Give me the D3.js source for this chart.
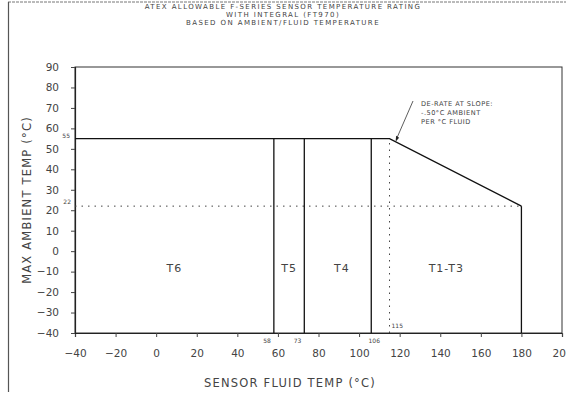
<!DOCTYPE html>
<html>
<head>
<meta charset="utf-8">
<script src="https://cdn.jsdelivr.net/npm/d3@7"></script>
<style>
  html, body { margin: 0; padding: 0; background: #fff; }
  svg { display: block; }
  text { font-family: "DejaVu Sans", sans-serif; fill: #444; }
</style>
</head>
<body>
<svg id="chart" width="566" height="397"></svg>
<script>
// Title lines
const titleLines = [
  "ATEX ALLOWABLE F-SERIES SENSOR TEMPERATURE RATING",
  "WITH INTEGRAL (FT970)",
  "BASED ON AMBIENT/FLUID TEMPERATURE"
];

// Axis ticks
const xTicks = [-40, -20, 0, 20, 40, 60, 80, 100, 120, 140, 160, 180, 200];
const yTicks = [-40, -30, -20, -10, 0, 10, 20, 30, 40, 50, 60, 70, 80, 90];

// Allowable ambient limit vs fluid temperature
const curveFluid = [-40, 115, 180];
const curveAmbient = [55, 55, 22];

// Temperature class zones (boundaries in fluid °C)
const zoneBounds = [-40, 58, 73, 106, 180];
const zoneNames = ["T6", "T5", "T4", "T1-T3"];

// Reference markers
const kneeFluid = 115;
const minAmbientAtMax = 22;

const svg = d3.select("#chart");

const x = d3.scaleLinear().domain([-40, 200]).range([75, 562]);
const y = d3.scaleLinear().domain([-40, 90]).range([333, 67]);

// Ambient limit at a given fluid temperature
const limitAt = d3.scaleLinear().domain(curveFluid).range(curveAmbient);

// Outer sheet border
svg.append("line").attr("x1", 8).attr("x2", 566).attr("y1", 2).attr("y2", 2)
  .attr("stroke", "#777").attr("stroke-width", 1).attr("stroke-dasharray", "3,1");
svg.append("line").attr("x1", 8.5).attr("x2", 8.5).attr("y1", 2).attr("y2", 392)
  .attr("stroke", "#555").attr("stroke-width", 1.2);

// Title
svg.append("g").selectAll("text").data(titleLines).join("text")
  .attr("x", 283).attr("y", (d, i) => 9 + i * 8)
  .attr("text-anchor", "middle")
  .attr("font-size", 7)
  .attr("letter-spacing", 1.4)
  .text(d => d);

// Plot frame
svg.append("rect")
  .attr("x", x(-40)).attr("y", y(90))
  .attr("width", x(200) - x(-40)).attr("height", y(-40) - y(90))
  .attr("fill", "none").attr("stroke", "#333").attr("stroke-width", 1);

// Axes
const xAxis = svg.append("g")
  .attr("transform", `translate(0,${y(-40)})`)
  .call(d3.axisBottom(x).tickValues(xTicks).tickSize(4).tickPadding(13).tickFormat(d3.format("d")));
const yAxis = svg.append("g")
  .attr("transform", `translate(${x(-40)},0)`)
  .call(d3.axisLeft(y).tickValues(yTicks).tickSize(4).tickPadding(12).tickFormat(d3.format("d")));
[xAxis, yAxis].forEach(g => {
  g.select(".domain").attr("stroke", "#222").attr("stroke-width", 1.2);
  g.selectAll(".tick line").attr("stroke", "#444");
  g.selectAll(".tick text").attr("font-size", 10.5).attr("fill", "#444")
    .attr("font-family", "DejaVu Sans, sans-serif");
});

// Axis titles
svg.append("text")
  .attr("x", 290).attr("y", 387)
  .attr("text-anchor", "middle").attr("font-size", 11.5).attr("letter-spacing", 1.2)
  .text("SENSOR FLUID TEMP (°C)");
svg.append("text")
  .attr("transform", `translate(31,${(y(90) + y(-40)) / 2}) rotate(-90)`)
  .attr("text-anchor", "middle").attr("font-size", 11.5).attr("letter-spacing", 1.2)
  .text("MAX AMBIENT TEMP (°C)");

// Dotted reference lines
svg.append("line")
  .attr("x1", x(-40)).attr("x2", x(180))
  .attr("y1", y(minAmbientAtMax)).attr("y2", y(minAmbientAtMax))
  .attr("stroke", "#444").attr("stroke-width", 1).attr("stroke-dasharray", "1.5,5");
svg.append("line")
  .attr("x1", x(kneeFluid)).attr("x2", x(kneeFluid))
  .attr("y1", y(-40)).attr("y2", y(limitAt(kneeFluid)))
  .attr("stroke", "#444").attr("stroke-width", 1).attr("stroke-dasharray", "1.5,5");

// Zone boundaries (vertical lines up to the limit curve)
svg.append("g").selectAll("line").data(zoneBounds.slice(1)).join("line")
  .attr("x1", d => x(d)).attr("x2", d => x(d))
  .attr("y1", y(-40)).attr("y2", d => y(limitAt(d)))
  .attr("stroke", "#111").attr("stroke-width", 1.3);

// Limit curve
const line = d3.line().x(d => x(d[0])).y(d => y(d[1]));
svg.append("path")
  .datum(d3.zip(curveFluid, curveAmbient))
  .attr("d", line)
  .attr("fill", "none").attr("stroke", "#111").attr("stroke-width", 1.4);

// Zone names
svg.append("g").selectAll("text").data(zoneNames).join("text")
  .attr("x", (d, i) => x((zoneBounds[i] + zoneBounds[i + 1]) / 2) + (i === 2 ? 4 : 0))
  .attr("y", y(-8) + 4)
  .attr("text-anchor", "middle").attr("font-size", 11).attr("letter-spacing", 1)
  .text(d => d);

// Small value markers
const small = svg.append("g").attr("font-size", 6);
small.append("text").attr("x", x(-40) - 5).attr("y", y(55) - 1).attr("text-anchor", "end").text("55");
small.append("text").attr("x", x(-40) - 4).attr("y", y(minAmbientAtMax) - 2).attr("text-anchor", "end").text("22");
zoneBounds.slice(1, 3).forEach(v => {
  small.append("text").attr("x", x(v) - 3).attr("y", y(-40) + 10).attr("text-anchor", "end").text(v);
});
small.append("text").attr("x", x(zoneBounds[3]) + 3).attr("y", y(-40) + 10).attr("text-anchor", "middle").text(zoneBounds[3]);
small.append("text").attr("x", x(kneeFluid) + 2).attr("y", y(-40) - 5).text(kneeFluid);

// Derating annotation with leader arrow
const tipX = x(118), tipY = y(limitAt(118));
svg.append("line")
  .attr("x1", 413).attr("y1", 101).attr("x2", tipX + 1).attr("y2", tipY - 3)
  .attr("stroke", "#333").attr("stroke-width", 0.8);
svg.append("path")
  .attr("d", `M${tipX},${tipY} l0.5,-6 l3,2 z`)
  .attr("fill", "#222");
const ann = svg.append("g").attr("font-size", 6.6).attr("letter-spacing", 0.5);
["DE-RATE AT SLOPE:", "-.50°C AMBIENT", "PER °C FLUID"].forEach((t, i) => {
  ann.append("text").attr("x", 421).attr("y", 106 + i * 9).text(t);
});
</script>
</body>
</html>
